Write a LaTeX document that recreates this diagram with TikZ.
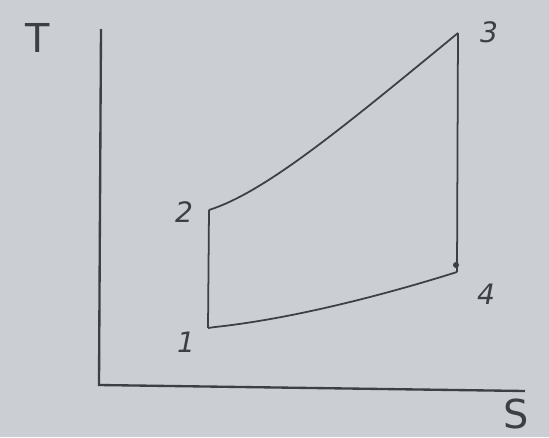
\documentclass[tikz,border=0pt]{standalone}
\usepackage{fontspec}
\setmainfont{DejaVu Sans}
\definecolor{paper}{HTML}{CBCFD3}
\definecolor{ink}{HTML}{3C3F43}

\begin{document}
\begin{tikzpicture}[
  x=.03cm, y=-.03cm,
  font=\fontsize{26}{28}\selectfont,
  axis/.style={draw=ink, line width=2pt},
  process/.style={draw=ink, line width=1.5pt, line join=round},
  state/.style={text=ink, inner sep=0pt, font=\fontsize{24}{26}\selectfont\itshape},
  axislabel/.style={text=ink, inner sep=0pt, font=\fontsize{34}{36}\selectfont}
]
% paper background fixes the frame
\fill[paper] (0,0) rectangle (549,437);
\useasboundingbox (0,0) rectangle (549,437);

% axes
\coordinate (origin) at (99,385);
\coordinate (ttop) at (101,29);
\coordinate (send) at (525,391);
\draw[axis] (ttop) -- (origin) -- (send);
\node[axislabel] (tlabel) at (38,38) {T};
\node[axislabel] (slabel) at (516,414) {S};

% cycle states
\coordinate (s1) at (208,328);
\coordinate (s2) at (209,210);
\coordinate (s3) at (458,33);
\coordinate (s4) at (457,272);
\node[state] (n1) at (186,342) {1};
\node[state] (n2) at (184,212) {2};
\node[state] (n3) at (489,32) {3};
\node[state] (n4) at (486,294) {4};

\draw[process] (s1) -- (s2);
\draw[process] (s2) .. controls (265,192) and (340,130) .. (s3);
\draw[process] (s3) -- (s4);
\draw[process] (s4) .. controls (400,290) and (300,318) .. (215,327) -- (s1);
\fill[ink] (456,265) circle (3);
\end{tikzpicture}
\end{document}
